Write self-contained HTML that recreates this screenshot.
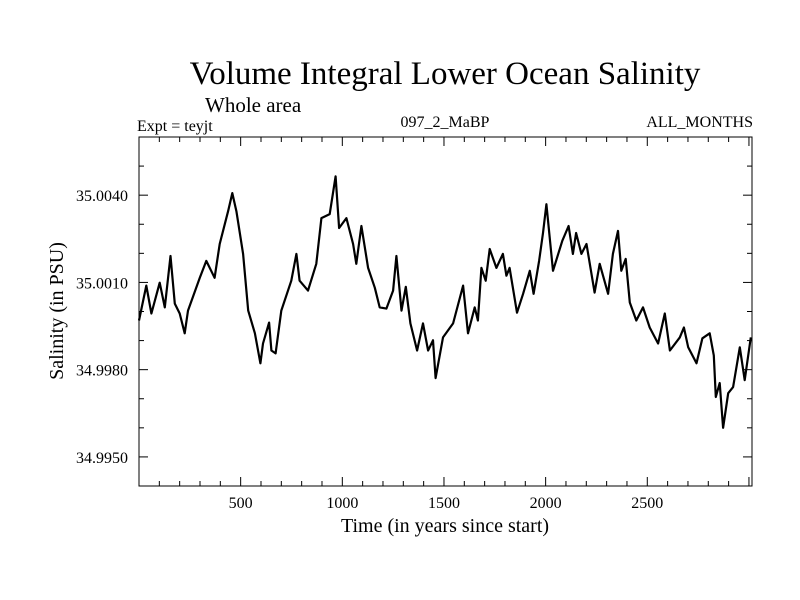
<!DOCTYPE html>
<html><head><meta charset="utf-8"><style>
body{margin:0;background:#fff;}
svg{display:block;font-family:"Liberation Serif",serif;}
</style></head><body>
<svg id="chart" width="800" height="600" viewBox="0 0 800 600">
<rect width="800" height="600" fill="#fff"/>
<text x="445" y="84" font-size="33" text-anchor="middle">Volume Integral Lower Ocean Salinity</text>
<text x="205" y="112" font-size="21">Whole area</text>
<text x="137" y="131" font-size="16">Expt = teyjt</text>
<text x="445" y="127" font-size="16" text-anchor="middle">097_2_MaBP</text>
<text x="753" y="127" font-size="16" text-anchor="end">ALL_MONTHS</text>
<text x="445" y="532" font-size="20" text-anchor="middle">Time (in years since start)</text>
<text x="0" y="0" font-size="20" text-anchor="middle" transform="translate(63,311) rotate(-90)">Salinity (in PSU)</text>
<g id="axes"></g>
<path id="series" fill="none" stroke="#000" stroke-width="2.2" stroke-linejoin="round"/>
<rect x="139" y="137" width="613" height="349" fill="none" stroke="#000" stroke-width="1"/>
</svg>
<script>
const years=[0,36,61,102,127,155,176,200,225,241,299,331,372,397,438,459,479,512,537,570,597,610,640,651,672,700,749,774,790,831,872,897,938,967,984,1020,1053,1069,1094,1127,1160,1184,1217,1250,1266,1291,1312,1335,1368,1397,1422,1446,1459,1495,1545,1594,1618,1651,1667,1684,1705,1725,1758,1790,1807,1823,1859,1889,1922,1941,1968,1987,2004,2036,2082,2113,2134,2150,2176,2201,2241,2266,2307,2331,2356,2372,2394,2414,2446,2479,2512,2553,2586,2611,2660,2680,2701,2742,2771,2807,2827,2837,2856,2873,2898,2922,2955,2979,3009];
const salinity=[34.99969,35.00089,34.99993,35.00099,35.00014,35.00191,35.00027,34.99993,34.99925,35.00003,35.00116,35.00174,35.00116,35.00232,35.00345,35.00407,35.00345,35.00198,35.00003,34.99925,34.99822,34.99890,34.99962,34.99866,34.99856,35.00003,35.00106,35.00198,35.00106,35.00072,35.00164,35.00321,35.00335,35.00465,35.00287,35.00321,35.00232,35.00164,35.00294,35.00150,35.00082,35.00014,35.00010,35.00072,35.00191,35.00003,35.00085,34.99959,34.99866,34.99959,34.99866,34.99901,34.99771,34.99911,34.99959,35.00089,34.99925,35.00014,34.99969,35.00150,35.00106,35.00215,35.00150,35.00198,35.00123,35.00150,34.99996,35.00061,35.00140,35.00061,35.00174,35.00270,35.00369,35.00140,35.00243,35.00294,35.00198,35.00270,35.00198,35.00232,35.00065,35.00164,35.00061,35.00198,35.00277,35.00140,35.00181,35.00031,34.99969,35.00014,34.99945,34.99890,34.99993,34.99866,34.99911,34.99945,34.99877,34.99822,34.99908,34.99925,34.99849,34.99706,34.99754,34.99600,34.99719,34.99740,34.99877,34.99764,34.99911];
const xTicks=[500,1000,1500,2000,2500];
const yTicks=[34.995,34.998,35.001,35.004];
const yTickLabels=["34.9950","34.9980","35.0010","35.0040"];
const X0=139,X1=752,Y0=486,Y1=137,XMIN=0,XMAX=3015,YMIN=34.994,YMAX=35.006;
const xs=v=>X0+(v-XMIN)/(XMAX-XMIN)*(X1-X0);
const ys=v=>Y0-(v-YMIN)/(YMAX-YMIN)*(Y0-Y1);
const NS="http://www.w3.org/2000/svg";
const g=document.getElementById('axes');
function ln(x1,y1,x2,y2){const l=document.createElementNS(NS,'line');l.setAttribute('x1',x1);l.setAttribute('y1',y1);l.setAttribute('x2',x2);l.setAttribute('y2',y2);l.setAttribute('stroke','#000');g.appendChild(l);return l;}
for(let t=100;t<XMAX;t+=100){const big=t%500===0;const L=big?9:5;
const a=ln(xs(t),Y0,xs(t),Y0-L);


const b=ln(xs(t),Y1,xs(t),Y1+L);

}
for(let k=0;k<12;k++){const v=34.995+k*0.001;if(v>YMAX)break;const big=Math.round((v-34.995)*1e4)%30===0;const L=big?9:5;
const a=ln(X0,ys(v),X0+L,ys(v));


const b=ln(X1,ys(v),X1-L,ys(v));

}
xTicks.forEach(t=>{const e=document.createElementNS(NS,'text');e.setAttribute('x',xs(t));e.setAttribute('y',508);e.setAttribute('font-size','16');e.setAttribute('text-anchor','middle');e.textContent=t;


g.appendChild(e);});
yTicks.forEach((t,i)=>{const e=document.createElementNS(NS,'text');e.setAttribute('x',128);e.setAttribute('y',ys(t)+6);e.setAttribute('font-size','16');e.setAttribute('text-anchor','end');e.textContent=yTickLabels[i];


g.appendChild(e);});
document.getElementById('series').setAttribute('d',years.map((y,i)=>(i?'L':'M')+xs(y).toFixed(1)+','+ys(salinity[i]).toFixed(1)).join(''));
</script>
</body></html>
